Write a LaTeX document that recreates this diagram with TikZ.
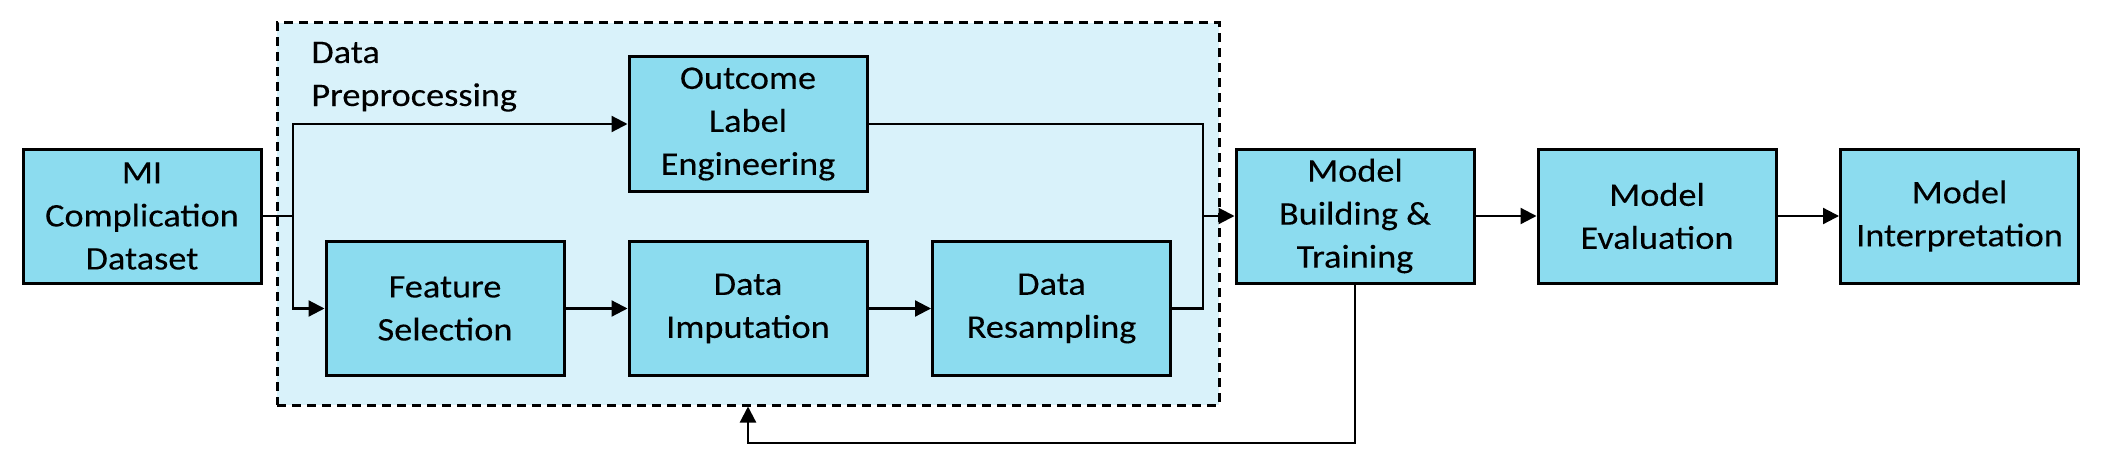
\documentclass[tikz,border=0pt]{standalone}
\usepackage{fontspec}
\setmainfont{Carlito}[FakeStretch=1.1,FakeBold=0.15]
\usetikzlibrary{arrows.meta,calc}
\definecolor{boxfill}{HTML}{8CDCEF}
\definecolor{grpfill}{HTML}{D9F2FA}
\begin{document}
\begin{tikzpicture}[x=0.5pt,y=-0.5pt,
  txt/.style={font=\fontsize{16.5}{21.5}\selectfont},
  stepbox/.style={draw=black,line width=1.5pt,fill=boxfill,minimum width=119pt,minimum height=67pt,inner sep=0pt,align=center,txt},
  conn/.style={line width=1.1pt,draw=black},
  arr/.style={conn,-{Triangle[length=8pt,width=8pt]}},
  grp/.style={draw=black,line width=1.5pt,dash pattern=on 4.7pt off 2.8pt,fill=grpfill,minimum width=471pt,minimum height=191pt,inner sep=0pt}
]
\useasboundingbox (0,0) rectangle (2102,465);
\node[grp] (dp) at (748,214) {};
\node[txt,anchor=base west,align=left,inner sep=0pt] (dplbl) at (311,106) {Data\\Preprocessing};

\node[stepbox] (mi) at (142,216) {MI\\Complication\\Dataset};
\node[stepbox] (ole) at (748,124) {Outcome\\Label\\Engineering};
\node[stepbox] (fs) at (445,308.5) {Feature\\Selection};
\node[stepbox] (di) at (748,308.5) {Data\\Imputation};
\node[stepbox] (dr) at (1051.5,308.5) {Data\\Resampling};
\node[stepbox] (mb) at (1355,216) {Model\\Building \&\\Training};
\node[stepbox] (me) at (1657,216) {Model\\Evaluation};
\node[stepbox] (mt) at (1959.5,216) {Model\\Interpretation};

\coordinate (br) at (293,216);
\coordinate (mg) at (1203,216);
\coordinate (fb) at (748,443);

\draw[conn] (mi.east) -- (br);
\draw[arr] (br) |- (ole.west);
\draw[arr] (br) |- (fs.west);
\draw[arr] (fs) -- (di);
\draw[arr] (di) -- (dr);
\draw[conn] (ole.east) -| (mg);
\draw[conn] (dr.east) -| (mg);
\draw[arr] (mg) -- (mb.west);
\draw[arr] (mb) -- (me);
\draw[arr] (me) -- (mt);
\draw[arr] (mb.south) |- (fb) -- (dp.south);
\end{tikzpicture}
\end{document}
